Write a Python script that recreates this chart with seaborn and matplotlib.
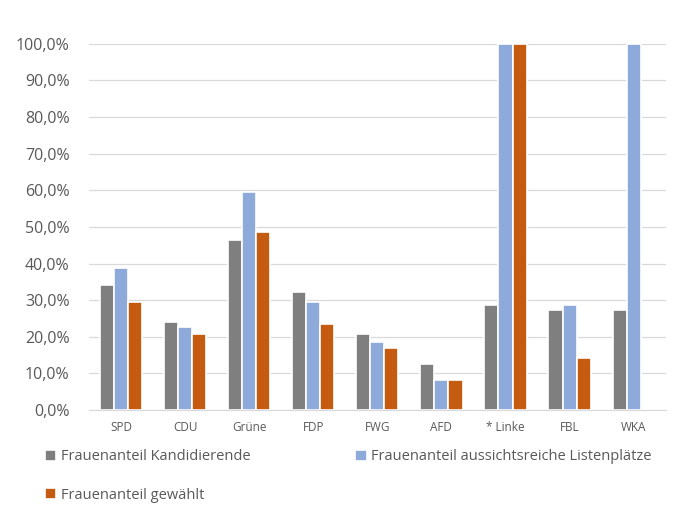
import matplotlib
matplotlib.use("Agg")
import matplotlib.pyplot as plt
from matplotlib.ticker import FuncFormatter
import seaborn as sns
import pandas as pd
import numpy as np

parteien = ["SPD", "CDU", "Grüne", "FDP", "FWG", "AFD", "* Linke", "FBL", "WKA"]
kandidierende = [34.0, 24.0, 46.4, 32.1, 20.8, 12.5, 28.6, 27.2, 27.2]
listenplaetze = [38.7, 22.6, 59.6, 29.4, 18.6, 8.3, 100.0, 28.6, 100.0]
gewaehlt = [29.5, 20.7, 48.6, 23.6, 16.8, 8.3, 100.0, 14.3, np.nan]

serien = ["Frauenanteil Kandidierende",
          "Frauenanteil aussichtsreiche Listenplätze",
          "Frauenanteil gewählt"]
farben = ["#7f7f7f", "#8eaadb", "#c55a11"]

df = pd.DataFrame({
    "Partei": parteien * 3,
    "Wert": kandidierende + listenplaetze + gewaehlt,
    "Serie": [serien[0]] * 9 + [serien[1]] * 9 + [serien[2]] * 9,
})

sns.set_style("white")
plt.rcParams['font.family'] = ['Open Sans', 'DejaVu Sans']

fig = plt.figure(figsize=(7, 5.27), dpi=100)
ax = fig.add_axes([0.127, 0.222, 0.824, 0.695])

sns.barplot(data=df, x="Partei", y="Wert", hue="Serie", palette=farben,
            saturation=1, width=0.66, edgecolor="white", linewidth=1.2,
            ax=ax, legend=True)

ax.set_ylim(0, 100)
ax.set_xlim(-0.5, len(parteien) - 0.5)
ax.set_yticks(np.arange(0, 101, 10))
ax.yaxis.set_major_formatter(FuncFormatter(lambda v, p: f"{v:.1f}".replace(".", ",") + "%"))
ax.grid(axis="y", color="#d9d9d9", linewidth=0.9)
ax.set_axisbelow(True)
for s in ["top", "right", "left"]:
    ax.spines[s].set_visible(False)
ax.spines["bottom"].set_color("#d9d9d9")
ax.set_xlabel("")
ax.set_ylabel("")
ax.tick_params(axis="y", labelsize=11.5, colors="#595959", length=0, pad=14)
ax.tick_params(axis="x", labelsize=8.5, colors="#595959", length=0, pad=8)

handles, labels = ax.get_legend_handles_labels()
ax.get_legend().remove()
order = [0, 2, 1]
fig.legend([handles[i] for i in order], [labels[i] for i in order],
           loc="upper left", bbox_to_anchor=(0.045, 0.172), ncol=2, frameon=False,
           fontsize=10.5, labelcolor="#595959", handlelength=0.8, handleheight=0.8,
           handletextpad=0.3, columnspacing=7.2, labelspacing=1.6)

fig.savefig("out.png", dpi=100)
